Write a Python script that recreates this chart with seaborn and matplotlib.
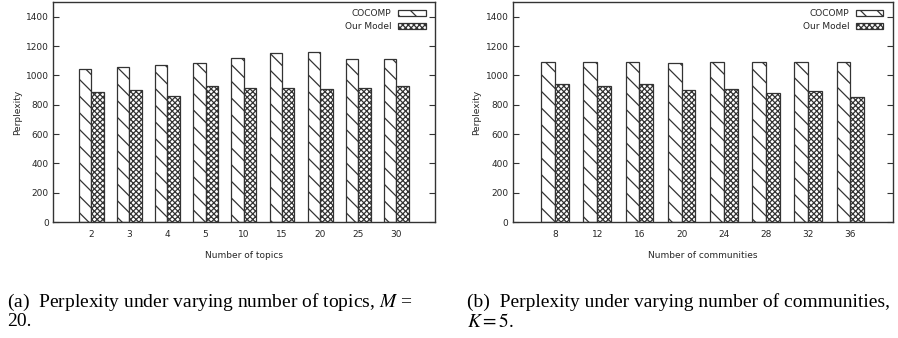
import numpy as np
import pandas as pd
import matplotlib
matplotlib.use('Agg')
import matplotlib.pyplot as plt
import seaborn as sns
from matplotlib.patches import Patch

# ── Data ──────────────────────────────────────────────────────────────────
topics = ["2", "3", "4", "5", "10", "15", "20", "25", "30"]
cocomp_topics = [1045, 1059, 1073, 1086, 1120, 1150, 1157, 1111, 1114]
ours_topics   = [884, 898, 857, 925, 916, 916, 909, 916, 930]

communities = ["8", "12", "16", "20", "24", "28", "32", "36"]
cocomp_comm = [1089, 1089, 1089, 1086, 1089, 1089, 1089, 1089]
ours_comm   = [939, 925, 939, 898, 909, 877, 893, 850]

models = ["COCOMP", "Our Model"]
hatches = {"COCOMP": "\\\\", "Our Model": "xxxxxx"}

sns.set_style("ticks")
plt.rcParams['font.family'] = ['DejaVu Sans']
plt.rcParams['hatch.linewidth'] = 0.9
plt.rcParams['hatch.color'] = 'black'

FS = 6.5
EDGE = '#333333'

fig = plt.figure(figsize=(8.98, 3.38), dpi=100)
ax1 = fig.add_axes([0.059, 0.343, 0.425, 0.651])
ax2 = fig.add_axes([0.571, 0.343, 0.423, 0.651])


def draw(ax, cats, a, b, xlabel):
    df = pd.DataFrame({
        "cat": cats * 2,
        "model": [models[0]] * len(cats) + [models[1]] * len(cats),
        "val": a + b,
    })
    sns.barplot(data=df, x="cat", y="val", hue="model", order=cats,
                hue_order=models, width=0.65, gap=0, ax=ax,
                legend=False, errorbar=None)
    n = len(cats)
    for i, p in enumerate(ax.patches[:2 * n]):
        m = models[i // n]
        p.set_facecolor('white')
        p.set_edgecolor(EDGE)
        p.set_linewidth(0.9)
        p.set_hatch(hatches[m])
    ax.set_xlim(-1, n)
    ax.set_ylim(0, 1500)
    ax.set_yticks(range(0, 1401, 200))
    ax.tick_params(axis='y', direction='in', right=True, length=4,
                   width=0.8, labelsize=FS, pad=3, color=EDGE)
    ax.tick_params(axis='x', length=0, labelsize=FS, pad=6)
    for s in ax.spines.values():
        s.set_visible(True)
        s.set_linewidth(1.0)
        s.set_color(EDGE)
    ax.set_xlabel(xlabel, fontsize=FS, labelpad=8)
    ax.set_ylabel("Perplexity", fontsize=FS, labelpad=3)
    handles = [Patch(facecolor='white', edgecolor=EDGE, hatch=hatches[m],
                     linewidth=0.9, label=m) for m in models]
    ax.legend(handles=handles, loc='upper right', frameon=False,
              fontsize=FS, markerfirst=False, handlelength=3.0,
              handleheight=0.55, labelspacing=0.45, borderaxespad=0.4,
              bbox_to_anchor=(0.995, 1.0))


draw(ax1, topics, cocomp_topics, ours_topics, "Number of topics")
draw(ax2, communities, cocomp_comm, ours_comm, "Number of communities")

cap = dict(fontsize=14.0, family='Liberation Serif', va='center', ha='left',
           math_fontfamily='stix', color='black')
fig.text(0.008, 1 - 302 / 338, "(a)  Perplexity under varying number of topics, $M$ =", **cap)
fig.text(0.008, 1 - 322 / 338, "20.", **cap)
fig.text(0.520, 1 - 302 / 338, "(b)  Perplexity under varying number of communities,", **cap)
fig.text(0.520, 1 - 322 / 338, "$K = 5$.", **cap)

plt.savefig("out.png", dpi=100)
plt.close()
